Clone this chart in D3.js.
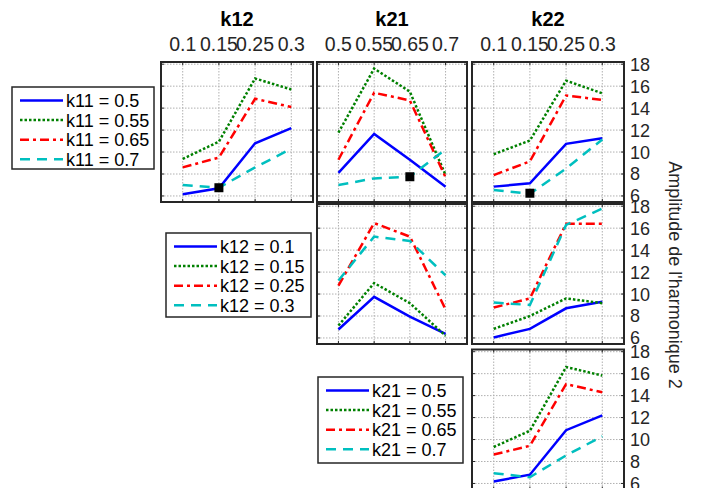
<!DOCTYPE html>
<html>
<head>
<meta charset="utf-8">
<script src="https://cdn.jsdelivr.net/npm/d3@7"></script>
<style>
  body { margin: 0; background: #fff; }
  text { font-family: "Liberation Sans", Arial, sans-serif; }
</style>
</head>
<body>
<script>
// parameter values shown on the x axes
var k12Ticks = ["0.1", "0.15", "0.25", "0.3"];
var k21Ticks = ["0.5", "0.55", "0.65", "0.7"];
var k22Ticks = ["0.1", "0.15", "0.25", "0.3"];
var yTicks = [6, 8, 10, 12, 14, 16, 18];

var k11Labels = ["k11 = 0.5", "k11 = 0.55", "k11 = 0.65", "k11 = 0.7"];
var k12Labels = ["k12 = 0.1", "k12 = 0.15", "k12 = 0.25", "k12 = 0.3"];
var k21Labels = ["k21 = 0.5", "k21 = 0.55", "k21 = 0.65", "k21 = 0.7"];

// row 1 : series k11
var k11_vs_k12 = [[6.15, 6.7, 10.8, 12.17], [9.37, 10.95, 16.7, 15.7], [8.6, 9.5, 14.85, 14.1], [7.0, 6.75, 8.6, 10.3]];
var k11_vs_k21 = [[8.1, 11.65, 9.3, 6.85], [11.77, 17.6, 15.5, 7.9], [9.3, 15.4, 14.7, 7.7], [7.0, 7.6, 7.75, 10.25]];
var k11_vs_k22 = [[6.85, 7.15, 10.75, 11.25], [9.8, 11.05, 16.5, 15.35], [7.9, 9.15, 15.15, 14.75], [6.55, 6.2, 8.5, 11.15]];
// row 2 : series k12
var k12_vs_k21 = [[6.77, 9.75, 7.94, 6.37], [7.13, 11.0, 9.17, 6.2], [10.77, 16.46, 15.23, 8.6], [11.23, 15.23, 14.83, 11.7]];
var k12_vs_k22 = [[6.05, 6.83, 8.7, 9.3], [6.83, 8.0, 9.6, 9.17], [8.77, 9.6, 16.4, 16.4], [9.23, 9.0, 16.3, 17.78]];
// row 3 : series k21
var k21_vs_k22 = [[6.18, 6.8, 10.85, 12.2], [9.32, 10.8, 16.6, 15.83], [8.63, 9.43, 15.05, 14.3], [6.94, 6.57, 8.55, 10.3]];

// black square markers (index on x axis, value)
var markers11 = [[2, 6.75], [3, 7.75], [2, 6.25]];

var w = 702, h = 488;
var colX = [161, 317, 472], colW = [152, 150, 152];
var rowY = [62, 204, 349.5], rowH = 140;

var styles = [
  {color: "#0000ff", dash: null},
  {color: "#008000", dash: "2.5,2"},
  {color: "#ff0000", dash: "9,4,3,4"},
  {color: "#00bfbf", dash: "10,7"}
];
var ink = "#262626";

var svg = d3.select("body").append("svg")
  .attr("width", w)
  .attr("height", h);

var panels = [
  {r: 0, c: 0, data: k11_vs_k12, mk: markers11[0]},
  {r: 0, c: 1, data: k11_vs_k21, mk: markers11[1]},
  {r: 0, c: 2, data: k11_vs_k22, mk: markers11[2]},
  {r: 1, c: 1, data: k12_vs_k21},
  {r: 1, c: 2, data: k12_vs_k22},
  {r: 2, c: 2, data: k21_vs_k22}
];

panels.forEach(function(p) {
  var x0 = colX[p.c], y0 = rowY[p.r], pw = colW[p.c];
  var x = d3.scaleLinear().domain([0.4, 4.6]).range([x0, x0 + pw]);
  var y = d3.scaleLinear().domain([5.45, 18.2]).range([y0 + rowH, y0]);
  var g = svg.append("g");

  // dotted grid
  g.selectAll(".gx").data([1, 2, 3, 4]).enter().append("line")
    .attr("x1", function(d) { return x(d); })
    .attr("x2", function(d) { return x(d); })
    .attr("y1", y0).attr("y2", y0 + rowH)
    .attr("stroke", "#b0b0b0").attr("stroke-dasharray", "1.5,1.5");
  g.selectAll(".gy").data(yTicks).enter().append("line")
    .attr("y1", function(d) { return y(d); })
    .attr("y2", function(d) { return y(d); })
    .attr("x1", x0).attr("x2", x0 + pw)
    .attr("stroke", "#b0b0b0").attr("stroke-dasharray", "1.5,1.5");

  // ticks on all four sides
  [y0, y0 + rowH].forEach(function(yy, k) {
    g.selectAll(".tx" + k).data([1, 2, 3, 4]).enter().append("line")
      .attr("x1", function(d) { return x(d); })
      .attr("x2", function(d) { return x(d); })
      .attr("y1", yy).attr("y2", k == 0 ? yy + 3 : yy - 3)
      .attr("stroke", ink).attr("stroke-width", 1);
  });
  [x0, x0 + pw].forEach(function(xx, k) {
    g.selectAll(".ty" + k).data(yTicks).enter().append("line")
      .attr("y1", function(d) { return y(d); })
      .attr("y2", function(d) { return y(d); })
      .attr("x1", xx).attr("x2", k == 0 ? xx + 3 : xx - 3)
      .attr("stroke", ink).attr("stroke-width", 1);
  });

  var line = d3.line()
    .x(function(d, i) { return x(i + 1); })
    .y(function(d) { return y(d); });

  g.selectAll(".series").data(p.data).enter().append("path")
    .attr("d", function(d) { return line(d); })
    .attr("fill", "none")
    .attr("stroke", function(d, i) { return styles[i].color; })
    .attr("stroke-dasharray", function(d, i) { return styles[i].dash; })
    .attr("stroke-width", 2.5);

  if (p.mk) {
    g.append("rect")
      .attr("x", x(p.mk[0]) - 4.5)
      .attr("y", y(p.mk[1]) - 4.5)
      .attr("width", 9).attr("height", 9)
      .attr("fill", "#000");
  }

  g.append("rect")
    .attr("x", x0).attr("y", y0)
    .attr("width", pw).attr("height", rowH)
    .attr("fill", "none")
    .attr("stroke", ink).attr("stroke-width", 2);

  // right axis labels on last column
  if (p.c == 2) {
    g.selectAll(".yl").data(yTicks).enter().append("text")
      .text(function(d) { return d; })
      .attr("x", x0 + pw + 6)
      .attr("y", function(d) { return y(d); })
      .attr("dy", "0.36em")
      .attr("font-size", "18px")
      .attr("fill", ink);
  }

  // top labels on first row
  if (p.r == 0) {
    var labs = [k12Ticks, k21Ticks, k22Ticks][p.c];
    g.selectAll(".xl").data(labs).enter().append("text")
      .text(function(d) { return d; })
      .attr("x", function(d, i) { return x(i + 1); })
      .attr("y", 51)
      .attr("text-anchor", "middle")
      .attr("font-size", "19.5px")
      .attr("fill", ink);
    g.append("text")
      .text(["k12", "k21", "k22"][p.c])
      .attr("x", x0 + pw / 2)
      .attr("y", 26)
      .attr("text-anchor", "middle")
      .attr("font-size", "20px")
      .attr("font-weight", "bold")
      .attr("fill", "#000");
  }
});

// y axis title
svg.append("text")
  .text("Amplitude de l'harmonique 2")
  .attr("transform", "translate(669,275) rotate(90)")
  .attr("text-anchor", "middle")
  .attr("font-size", "18px")
  .attr("fill", ink);

// legends
var legends = [
  {labels: k11Labels, x: 12, y: 87, w: 142, h: 82},
  {labels: k12Labels, x: 166, y: 233, w: 145, h: 84},
  {labels: k21Labels, x: 318, y: 377, w: 145, h: 86}
];

legends.forEach(function(L) {
  var g = svg.append("g");
  g.append("rect")
    .attr("x", L.x).attr("y", L.y)
    .attr("width", L.w).attr("height", L.h)
    .attr("fill", "#fff")
    .attr("stroke", ink).attr("stroke-width", 1.5);
  var rows = g.selectAll(".entry").data(L.labels).enter().append("g")
    .attr("transform", function(d, i) { return "translate(0," + (L.y + 13.5 + i * 19.6) + ")"; });
  rows.append("line")
    .attr("x1", L.x + 8).attr("x2", L.x + 51)
    .attr("stroke", function(d, i) { return styles[i].color; })
    .attr("stroke-dasharray", function(d, i) { return styles[i].dash; })
    .attr("stroke-width", 2.5);
  rows.append("text")
    .text(function(d) { return d; })
    .attr("x", L.x + 54)
    .attr("dy", "0.36em")
    .attr("font-size", "18px")
    .attr("fill", "#000");
});
</script>
</body>
</html>
